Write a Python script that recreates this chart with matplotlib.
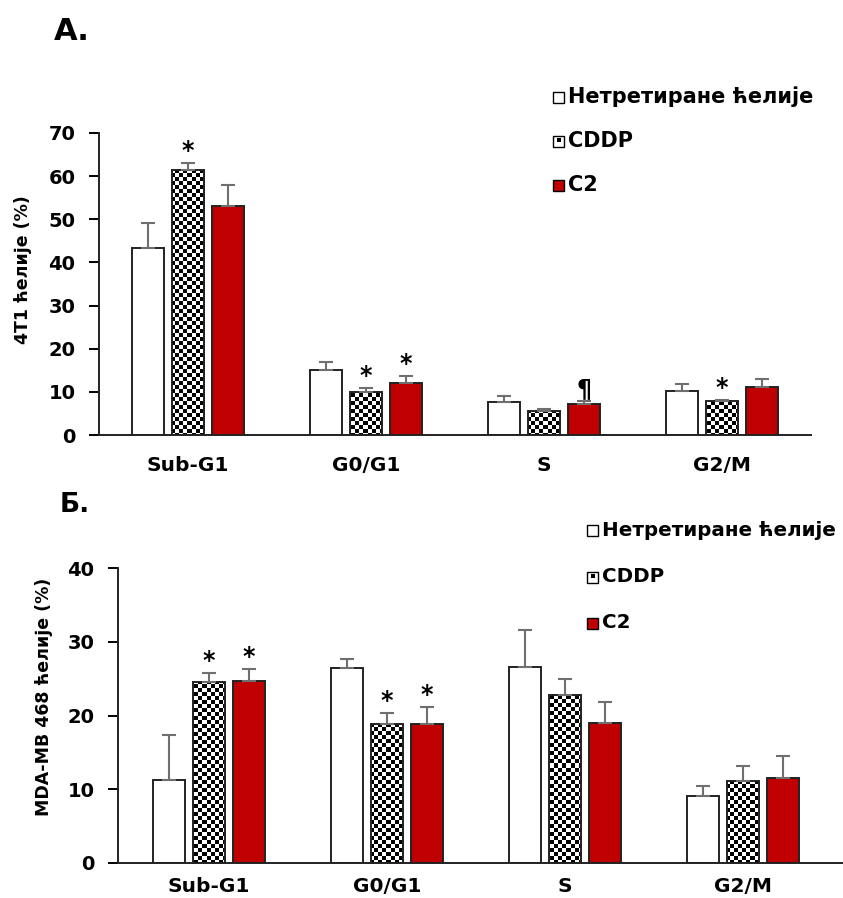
import numpy as np
import matplotlib.pyplot as plt
from matplotlib.patches import Rectangle

plt.rcParams['font.family'] = ['DejaVu Sans']
plt.rcParams['font.weight'] = 'bold'

phases = ["Sub-G1", "G0/G1", "S", "G2/M"]
groups = ["Нетретиране ћелије", "CDDP", "C2"]

# 4T1 cells (%)
t1_ctrl = [43.4, 15.0, 7.6, 10.2]
t1_ctrl_err = [5.8, 1.9, 1.4, 1.6]
t1_cddp = [61.4, 9.9, 5.5, 7.8]
t1_cddp_err = [1.6, 1.0, 0.5, 0.4]
t1_c2 = [53.1, 12.0, 7.2, 11.1]
t1_c2_err = [4.9, 1.6, 0.6, 1.8]
t1_marks = [(0, 1, "*"), (1, 1, "*"), (1, 2, "*"), (2, 2, "¶"), (3, 1, "*")]

# MDA-MB 468 cells (%)
mda_ctrl = [11.2, 26.4, 26.6, 9.1]
mda_ctrl_err = [6.1, 1.2, 5.0, 1.3]
mda_cddp = [24.5, 18.9, 22.8, 11.1]
mda_cddp_err = [1.2, 1.5, 2.1, 2.0]
mda_c2 = [24.7, 18.9, 19.0, 11.5]
mda_c2_err = [1.6, 2.3, 2.8, 3.0]
mda_marks = [(0, 1, "*"), (0, 2, "*"), (1, 1, "*"), (1, 2, "*")]

RED = "#c00000"
ERR = "#6f6f6f"
W = 0.18
OFF = 0.225

fig = plt.figure(figsize=(8.43, 8.98), dpi=100)


def checker(ax, bars, cell=4):
    # checkerboard fill in screen pixels, clipped to each bar
    fig.canvas.draw()
    bb = ax.get_window_extent()
    nx, ny = int(round(bb.width)), int(round(bb.height))
    r, c = np.mgrid[0:ny, 0:nx]
    img = ((r // cell + c // cell) % 2).astype(float)
    xl, yl = ax.get_xlim(), ax.get_ylim()
    for b in bars:
        im = ax.imshow(img, cmap="gray", extent=(xl[0], xl[1], yl[0], yl[1]),
                       aspect="auto", interpolation="nearest", zorder=0.5)
        im.set_clip_path(b)
    ax.set_xlim(xl)
    ax.set_ylim(yl)


def panel(rect, ctrl, ctrl_err, cddp, cddp_err, c2, c2_err, ymax, ylabel, marks, xpad):
    ax = fig.add_axes(rect)
    x = np.arange(len(phases))
    vals = [ctrl, cddp, c2]
    errs = [ctrl_err, cddp_err, c2_err]
    faces = ["white", "none", RED]
    allbars = []
    for i in range(3):
        xi = x + (i - 1) * OFF
        bars = ax.bar(xi, vals[i], W, color=faces[i], edgecolor="#222222",
                      linewidth=1.4, zorder=1)
        allbars.append(bars)
        ax.errorbar(xi, vals[i], yerr=[np.zeros(4), errs[i]], fmt="none",
                    ecolor=ERR, elinewidth=1.5, capsize=5, capthick=1.5, zorder=2)
    for gi, si, s in marks:
        xs = gi + (si - 1) * OFF
        ys = vals[si][gi] + errs[si][gi]
        ax.annotate(s, (xs, ys), xytext=(0, 0), textcoords="offset points",
                    ha="center", va="bottom", fontsize=17, fontweight="bold")
    ax.set_ylim(0, ymax)
    for sp in ["top", "right"]:
        ax.spines[sp].set_visible(False)
    for sp in ["left", "bottom"]:
        ax.spines[sp].set_linewidth(1.4)
        ax.spines[sp].set_color("#222222")
    ax.set_xticks(x)
    ax.set_xticklabels(phases, fontsize=14.5, fontweight="bold")
    ax.tick_params(axis="x", length=0, pad=xpad)
    ax.tick_params(axis="y", direction="out", length=7, width=1.4,
                   labelsize=14, pad=10)
    ax.set_ylabel(ylabel, fontsize=12.5, fontweight="bold")
    return ax, allbars


def legend(x0, ys, fs, size=11):
    H = 898.0
    Wd = 843.0
    for k, (y, lab) in enumerate(zip(ys, groups)):
        fc = ["white", "white", RED][k]
        fig.patches.append(Rectangle((x0 / Wd, (H - y - size / 2) / H), size / Wd, size / H,
                                     facecolor=fc, edgecolor="black", linewidth=1.0,
                                     transform=fig.transFigure, figure=fig))
        if k == 1:
            fig.patches.append(Rectangle(((x0 + 4) / Wd, (H - y - 1) / H), 4 / Wd, 4 / H,
                                         facecolor="black", edgecolor="none",
                                         transform=fig.transFigure, figure=fig))
        fig.text((x0 + size + 4) / Wd, (H - y) / H, lab, fontsize=fs,
                 fontweight="bold", va="center", ha="left")


# top panel: 4T1
ax1, b1 = panel([99 / 843, 1 - 435 / 898, 712 / 843, 302 / 898],
                t1_ctrl, t1_ctrl_err, t1_cddp, t1_cddp_err, t1_c2, t1_c2_err,
                70, "4T1 ћелије (%)", t1_marks, 15)
ax1.set_xlim(-0.5, 3.5)
ax1.set_yticks(range(0, 71, 10))
ax1.yaxis.set_label_coords(-0.094, 0.546)

# bottom panel: MDA-MB 468
ax2, b2 = panel([118 / 843, 1 - 863 / 898, 725 / 843, 295 / 898],
                mda_ctrl, mda_ctrl_err, mda_cddp, mda_cddp_err, mda_c2, mda_c2_err,
                40, "MDA-MB 468 ћелије (%)", mda_marks, 10)
ax2.set_xlim(-0.51, 3.56)
ax2.set_yticks(range(0, 41, 10))
ax2.yaxis.set_label_coords(-0.090, 0.563)

checker(ax1, b1[1])
checker(ax2, b2[1])

legend(553, [97, 141, 185], 15)
legend(587, [530, 577, 623], 14.3)

fig.text(54 / 843, 1 - 40 / 898, "A.", fontsize=22, fontweight="bold", ha="left", va="baseline")
fig.text(60 / 843, 1 - 512 / 898, "Б.", fontsize=19, fontweight="bold", ha="left", va="baseline")

fig.savefig("out.png", dpi=100)
